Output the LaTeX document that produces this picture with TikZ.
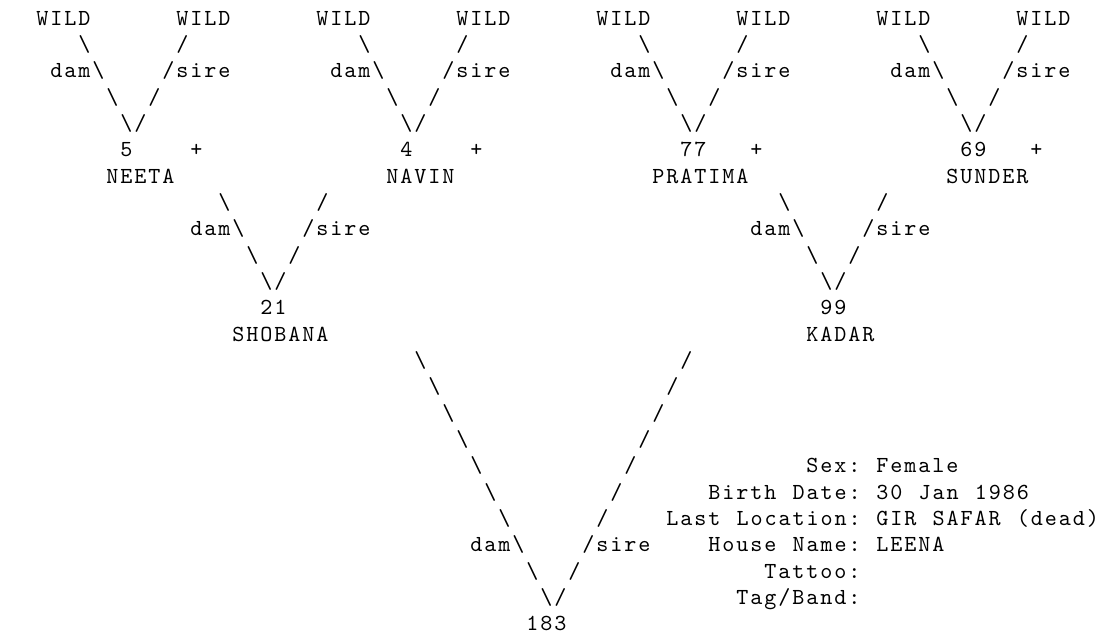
\documentclass[tikz,border=0pt]{standalone}
\usepackage{fontspec}
\newfontfamily\pedfont{lmmono10-regular.otf}[LetterSpace=8.35,WordSpace=1.1594]
\newcommand{\bsl}{\textbackslash}
\begin{document}
\begin{tikzpicture}[x=7pt, y=-13.1667pt,
    chr/.style={font=\pedfont\fontsize{11.5pt}{13pt}\selectfont, inner sep=0pt, anchor=base west}]
  \useasboundingbox (-2.5714,-0.9494) rectangle (76.2857,23.3165);
  % (a) 5 NEETA
  \begin{scope}
    \node[chr] (a1) at (0,0) {WILD};
    \node[chr] (a2) at (10,0) {WILD};
    \node[chr] (a3) at (3,1) {\bsl};
    \node[chr] (a4) at (10,1) {/};
    \node[chr] (a5) at (1,2) {dam\bsl};
    \node[chr] (a6) at (9,2) {/sire};
    \node[chr] (a7) at (5,3) {\bsl};
    \node[chr] (a8) at (8,3) {/};
    \node[chr] (a9) at (6,4) {\bsl/};
    \node[chr] (a10) at (6,5) {5};
    \node[chr] (a11) at (11,5) {+};
    \node[chr] (a12) at (5,6) {NEETA};
  \end{scope}
  % (b) 4 NAVIN
  \begin{scope}[shift={(20,0)}]
    \node[chr] (b1) at (0,0) {WILD};
    \node[chr] (b2) at (10,0) {WILD};
    \node[chr] (b3) at (3,1) {\bsl};
    \node[chr] (b4) at (10,1) {/};
    \node[chr] (b5) at (1,2) {dam\bsl};
    \node[chr] (b6) at (9,2) {/sire};
    \node[chr] (b7) at (5,3) {\bsl};
    \node[chr] (b8) at (8,3) {/};
    \node[chr] (b9) at (6,4) {\bsl/};
    \node[chr] (b10) at (6,5) {4};
    \node[chr] (b11) at (11,5) {+};
    \node[chr] (b12) at (5,6) {NAVIN};
  \end{scope}
  % (c) 77 PRATIMA
  \begin{scope}[shift={(40,0)}]
    \node[chr] (c1) at (0,0) {WILD};
    \node[chr] (c2) at (10,0) {WILD};
    \node[chr] (c3) at (3,1) {\bsl};
    \node[chr] (c4) at (10,1) {/};
    \node[chr] (c5) at (1,2) {dam\bsl};
    \node[chr] (c6) at (9,2) {/sire};
    \node[chr] (c7) at (5,3) {\bsl};
    \node[chr] (c8) at (8,3) {/};
    \node[chr] (c9) at (6,4) {\bsl/};
    \node[chr] (c10) at (6,5) {77};
    \node[chr] (c11) at (11,5) {+};
    \node[chr] (c12) at (4,6) {PRATIMA};
  \end{scope}
  % (d) 69 SUNDER
  \begin{scope}[shift={(60,0)}]
    \node[chr] (d1) at (0,0) {WILD};
    \node[chr] (d2) at (10,0) {WILD};
    \node[chr] (d3) at (3,1) {\bsl};
    \node[chr] (d4) at (10,1) {/};
    \node[chr] (d5) at (1,2) {dam\bsl};
    \node[chr] (d6) at (9,2) {/sire};
    \node[chr] (d7) at (5,3) {\bsl};
    \node[chr] (d8) at (8,3) {/};
    \node[chr] (d9) at (6,4) {\bsl/};
    \node[chr] (d10) at (6,5) {69};
    \node[chr] (d11) at (11,5) {+};
    \node[chr] (d12) at (5,6) {SUNDER};
  \end{scope}
  % (e) 21 SHOBANA
  \begin{scope}[shift={(10,7)}]
    \node[chr] (e1) at (3,0) {\bsl};
    \node[chr] (e2) at (10,0) {/};
    \node[chr] (e3) at (1,1) {dam\bsl};
    \node[chr] (e4) at (9,1) {/sire};
    \node[chr] (e5) at (5,2) {\bsl};
    \node[chr] (e6) at (8,2) {/};
    \node[chr] (e7) at (6,3) {\bsl/};
    \node[chr] (e8) at (6,4) {21};
    \node[chr] (e9) at (4,5) {SHOBANA};
  \end{scope}
  % (f) 99 KADAR
  \begin{scope}[shift={(50,7)}]
    \node[chr] (f1) at (3,0) {\bsl};
    \node[chr] (f2) at (10,0) {/};
    \node[chr] (f3) at (1,1) {dam\bsl};
    \node[chr] (f4) at (9,1) {/sire};
    \node[chr] (f5) at (5,2) {\bsl};
    \node[chr] (f6) at (8,2) {/};
    \node[chr] (f7) at (6,3) {\bsl/};
    \node[chr] (f8) at (6,4) {99};
    \node[chr] (f9) at (5,5) {KADAR};
  \end{scope}
  % (g) 183
  \node[chr] (g1) at (27,13) {\bsl};  \node[chr] (h1) at (46,13) {/};
  \node[chr] (g2) at (28,14) {\bsl};  \node[chr] (h2) at (45,14) {/};
  \node[chr] (g3) at (29,15) {\bsl};  \node[chr] (h3) at (44,15) {/};
  \node[chr] (g4) at (30,16) {\bsl};  \node[chr] (h4) at (43,16) {/};
  \node[chr] (g5) at (31,17) {\bsl};  \node[chr] (h5) at (42,17) {/};
  \node[chr] (g6) at (32,18) {\bsl};  \node[chr] (h6) at (41,18) {/};
  \node[chr] (g7) at (33,19) {\bsl};  \node[chr] (h7) at (40,19) {/};
  \node[chr] (g8) at (31,20) {dam\bsl};  \node[chr] (h8) at (39,20) {/sire};
  \node[chr] (g9) at (35,21) {\bsl};  \node[chr] (h9) at (38,21) {/};
  \node[chr] (g10) at (36,22) {\bsl/};
  \node[chr] (g11) at (35,23) {183};
  % details
  \node[chr] (sex) at (55,17) {Sex:};
  \node[chr] (sexv) at (60,17) {Female};
  \node[chr] (birth) at (48,18) {Birth Date:};
  \node[chr] (birthv) at (60,18) {30 Jan 1986};
  \node[chr] (loc) at (45,19) {Last Location:};
  \node[chr] (locv) at (60,19) {GIR SAFAR (dead)};
  \node[chr] (house) at (48,20) {House Name:};
  \node[chr] (housev) at (60,20) {LEENA};
  \node[chr] (tattoo) at (52,21) {Tattoo:};
  \node[chr] (tag) at (50,22) {Tag/Band:};
\end{tikzpicture}
\end{document}
